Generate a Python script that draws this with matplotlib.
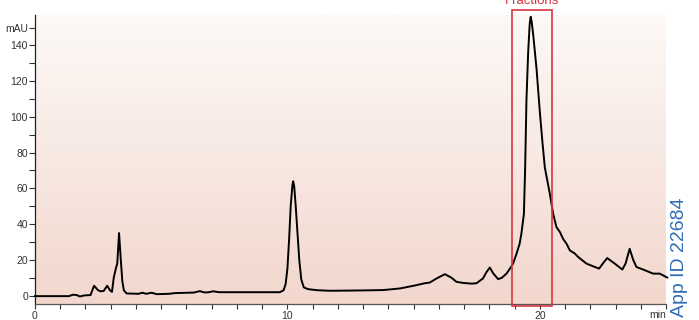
import numpy as np
import matplotlib.pyplot as plt
from matplotlib.colors import LinearSegmentedColormap
from matplotlib.patches import Rectangle

plt.rcParams['font.family'] = ['Liberation Sans', 'DejaVu Sans']

# chromatogram (time in min, signal in mAU)
time = [0.0, 1.35, 1.5, 1.65, 1.78, 1.95, 2.2, 2.34, 2.5, 2.6, 2.72, 2.86, 2.97, 3.05,
        3.12, 3.2, 3.26, 3.33, 3.4, 3.46, 3.52, 3.63, 4.1, 4.26, 4.4, 4.62, 4.82, 5.3,
        5.54, 6.3, 6.53, 6.7, 6.85, 7.06, 7.3, 9.7, 9.85, 9.93, 10.0, 10.07, 10.13,
        10.2, 10.23, 10.27, 10.33, 10.4, 10.47, 10.55, 10.65, 10.82, 11.2, 11.7, 13.0,
        13.8, 14.46, 15.1, 15.4, 15.64, 15.9, 16.24, 16.5, 16.7, 16.96, 17.3, 17.49,
        17.75, 17.88, 18.02, 18.15, 18.35, 18.5, 18.68, 18.86, 18.94, 19.08, 19.2,
        19.27, 19.37, 19.42, 19.47, 19.54, 19.6, 19.64, 19.68, 19.74, 19.87, 20.0,
        20.1, 20.2, 20.4, 20.53, 20.66, 20.8, 20.92, 21.06, 21.19, 21.39, 21.52, 21.85,
        22.11, 22.35, 22.5, 22.67, 22.97, 23.27, 23.4, 23.56, 23.7, 23.83, 24.09, 24.49,
        24.75, 25.05]
signal = [-0.3, -0.3, 0.5, 0.3, -0.5, 0.1, 0.3, 5.5, 3.0, 2.4, 2.6, 5.5, 3.0, 2.1,
          10, 15, 18, 35, 20, 8, 3, 1.2, 1.0, 1.6, 1.0, 1.6, 0.8, 1.0,
          1.4, 1.7, 2.5, 1.8, 1.8, 2.4, 1.9, 1.9, 3.0, 6.5, 15, 32, 50,
          62, 64, 61, 50, 35, 20, 9, 4.6, 3.6, 3.0, 2.7, 2.9,
          3.1, 4.0, 5.8, 6.8, 7.3, 9.5, 12, 10, 7.7, 7.1, 6.7, 6.9,
          9.6, 13, 15.7, 12.5, 9.2, 10, 12.3, 16, 17.9, 23.5, 29,
          34.6, 45.7, 71.6, 108.7, 136.5, 152, 156, 153, 145.8, 127, 103,
          86.5, 71.6, 56.8, 45.7, 38.3, 35.5, 31.8, 29, 25.3, 23.5, 21.6, 17.9,
          16.4, 15.1, 18, 21, 17.9, 14.6, 18, 26.2, 20, 16, 14.6, 12.3,
          12.3, 10.1]

# fraction window
frac_start, frac_end = 18.9, 20.5

fig = plt.figure(figsize=(6.99, 3.2), dpi=100)
ax = fig.add_axes([35 / 699, 1 - 304 / 320, 631 / 699, 289 / 320])

# background gradient
cmap = LinearSegmentedColormap.from_list('bg', ['#f2d7cd', '#fdf9f7'])
grad = np.linspace(0, 1, 256).reshape(-1, 1)
ax.imshow(grad, cmap=cmap, origin='lower', aspect='auto',
          extent=[0, 1, 0, 1], transform=ax.transAxes, zorder=0)

ax.plot(time, signal, color='black', lw=1.4, zorder=3, clip_on=False,
        solid_joinstyle='round')

ax.set_xlim(0, 25.0)
ax.set_ylim(-4.7, 157)

ax.set_xticks(np.arange(0, 26, 1))
ax.set_xticklabels(['0' if t == 0 else str(t) if t % 10 == 0 else '' for t in range(26)])
ax.set_yticks(np.arange(0, 151, 10))
ax.set_yticklabels([('mAU' if v == 150 else str(v)) if v % 20 == 0 or v == 150 else ''
                    for v in range(0, 151, 10)])
ax.tick_params(axis='x', direction='out', length=3.5, width=0.8, pad=1.5,
               labelsize=7.5, colors='#333333')
ax.tick_params(axis='y', direction='out', length=4.5, width=0.8, pad=0.5,
               labelsize=7.5, colors='#333333')

for s in ['top', 'right']:
    ax.spines[s].set_visible(False)
ax.spines['left'].set_color('#222222')
ax.spines['bottom'].set_color('#555555')
ax.spines['left'].set_linewidth(0.9)
ax.spines['bottom'].set_linewidth(0.9)

ax.text(0.986, -0.02, 'min', transform=ax.transAxes, ha='center', va='top',
        fontsize=7.5, color='#333333')

rect = Rectangle((frac_start, -5.8), frac_end - frac_start, 165.5, fill=False,
                 edgecolor='#d8343f', lw=1.2, clip_on=False, zorder=4)
ax.add_patch(rect)
ax.text((frac_start + frac_end) / 2, 161.5, 'Fractions', ha='center', va='bottom',
        fontsize=9.5, color='#d8343f', clip_on=False)

fig.text(680 / 699, 3 / 320, 'App ID 22684', rotation=90, ha='center', va='bottom',
         fontsize=14, color='#2f6db5')

fig.savefig('out.png', dpi=100)
